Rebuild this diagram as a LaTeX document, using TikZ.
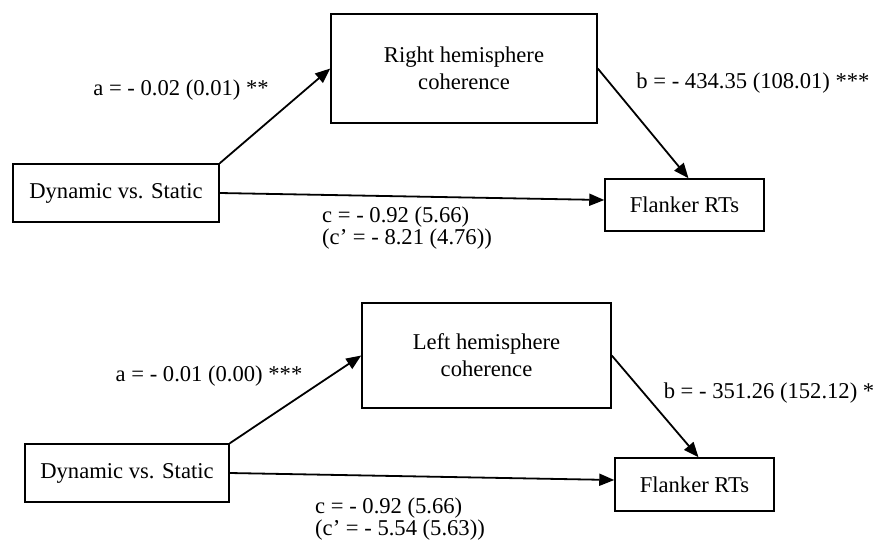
\documentclass[tikz,border=0pt]{standalone}
\usepackage{fontspec}
\setmainfont{Liberation Serif}
\usetikzlibrary{arrows.meta}
\begin{document}
\begin{tikzpicture}[x=1pt,y=-1pt,
 box/.style={draw, line width=1.5pt, inner sep=0pt, font=\fontsize{22.6}{27}\selectfont, align=center},
 lbl/.style={inner sep=0pt, font=\fontsize{22.6}{20}\selectfont, align=left},
 arr/.style={line width=1.8pt, -{Triangle[length=15pt,width=12pt]}}]
\useasboundingbox (0,0) rectangle (877,544);
% top panel
\node[box, minimum width=206pt, minimum height=58pt] (dyn1) at (116,193) {Dynamic vs. Static};
\node[box, minimum width=266pt, minimum height=109pt] (rh) at (464,68.5) {Right hemisphere\\coherence};
\node[box, minimum width=159pt, minimum height=52pt] (fl1) at (684.5,205) {Flanker RTs};
\draw[arr] (dyn1.north east) -- (rh.west);
\draw[arr] (rh.east) -- ([xshift=4pt]fl1.north);
\draw[arr] (dyn1.east) -- ([yshift=5pt]fl1.west);
\node[lbl] (la1) at (181,90) {a = - 0.02 (0.01) **};
\node[lbl] (lb1) at (753,83) {b = - 434.35 (108.01) ***};
\node[lbl, anchor=west] (lc1) at (322,228) {c = - 0.92 (5.66)\\(c’ = - 8.21 (4.76))};
% bottom panel
\node[box, minimum width=204pt, minimum height=58pt] (dyn2) at (127,473) {Dynamic vs. Static};
\node[box, minimum width=249pt, minimum height=105pt] (lh) at (486.5,355.5) {Left hemisphere\\coherence};
\node[box, minimum width=159pt, minimum height=53pt] (fl2) at (694.5,484.5) {Flanker RTs};
\draw[arr] (dyn2.north east) -- (lh.west);
\draw[arr] (lh.east) -- ([xshift=4pt]fl2.north);
\draw[arr] (dyn2.east) -- ([yshift=4.5pt]fl2.west);
\node[lbl] (la2) at (209,376) {a = - 0.01 (0.00) ***};
\node[lbl] (lb2) at (769,393) {b = - 351.26 (152.12) *};
\node[lbl, anchor=west] (lc2) at (315,519) {c = - 0.92 (5.66)\\(c’ = - 5.54 (5.63))};
\end{tikzpicture}
\end{document}
